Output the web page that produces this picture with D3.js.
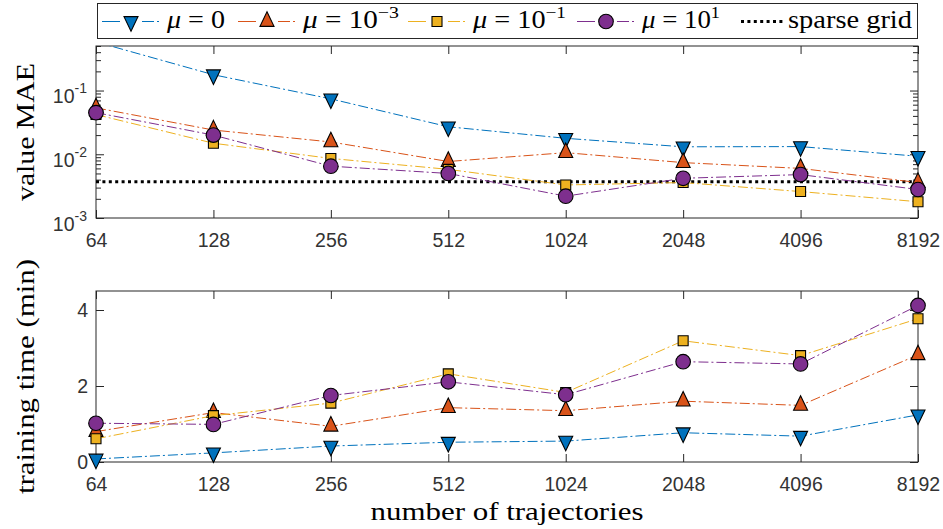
<!DOCTYPE html>
<html>
<head>
<meta charset="utf-8">
<script src="https://cdn.jsdelivr.net/npm/d3@7"></script>
<style>
body { margin: 0; background: #fff; }
svg { display: block; }
</style>
</head>
<body>
<div id="chart"></div>
<script>
// values
var trajectories = [64, 128, 256, 512, 1024, 2048, 4096, 8192];

var maeMu0    = [0.58, 0.177, 0.074, 0.027, 0.0178, 0.0131, 0.0132, 0.0093];
var maeMu1e3  = [0.0535, 0.024, 0.0156, 0.0077, 0.0106, 0.0074, 0.0060, 0.0036];
var maeMu1e1  = [0.042, 0.0149, 0.0086, 0.0058, 0.0033, 0.0036, 0.0026, 0.0018];
var maeMu10   = [0.045, 0.020, 0.0065, 0.0050, 0.0022, 0.0042, 0.0048, 0.0028];
var sparseGridMae = 0.0037;

var timeMu0   = [0.08, 0.24, 0.42, 0.52, 0.55, 0.77, 0.68, 1.24];
var timeMu1e3 = [0.80, 1.30, 0.94, 1.43, 1.35, 1.60, 1.49, 2.82];
var timeMu1e1 = [0.61, 1.22, 1.55, 2.32, 1.83, 3.19, 2.80, 3.77];
var timeMu10  = [1.02, 0.99, 1.75, 2.11, 1.77, 2.64, 2.58, 4.12];

var muExponents = [null, "\u22123", "\u22121", "1"];
var maeTicks = [1e-3, 1e-2, 1e-1];
var maeTickExps = ["-3", "-2", "-1"];
var timeTicks = [0, 2, 4];

// styling
var colors = ["#0072BD", "#D95319", "#EDB120", "#7E2F8E"];
var markers = ["down", "up", "square", "circle"];
var axisColor = "#262626";
var tickTextColor = "#333333";
var sansFont = "Liberation Sans";
var serifFont = "Liberation Serif";
var dashDot = "10,3,2,3";

var width = 943;
var height = 529;
var plotLeft = 96, plotRight = 918;
var topPanel = { top: 46, bottom: 218 };
var botPanel = { top: 291, bottom: 462 };

var svg = d3.select("#chart").append("svg")
    .attr("width", width)
    .attr("height", height);

var x = d3.scaleLog().base(2).domain([64, 8192]).range([plotLeft, plotRight]);
var yMae = d3.scaleLog().domain([1e-3, 0.5]).range([topPanel.bottom, topPanel.top]);
var yTime = d3.scaleLinear().domain([0, 4.5]).range([botPanel.bottom, botPanel.top]);

// marker shapes, centred on the centroid like matlab does
function markerPath(type) {
    if (type == "circle") return d3.symbol().type(d3.symbolCircle).size(Math.PI * 7.3 * 7.3)();
    if (type == "square") return "M-5,-5H5V5H-5Z";
    var w = 7, h = 14.5;
    if (type == "up") return "M0," + (-2 * h / 3) + "L" + w + "," + (h / 3) + "L" + (-w) + "," + (h / 3) + "Z";
    return "M0," + (2 * h / 3) + "L" + w + "," + (-h / 3) + "L" + (-w) + "," + (-h / 3) + "Z";
}

function drawFrame(panel, yScale, isLog) {
    var g = svg.append("g").attr("class", "frame");

    var bottomAxis = d3.axisBottom(x).tickValues(trajectories).tickSize(-8).tickSizeOuter(0)
        .tickPadding(15).tickFormat(d3.format("d"));
    var topAxis = d3.axisTop(x).tickValues(trajectories).tickSize(-8).tickSizeOuter(0).tickFormat("");

    g.append("g").attr("transform", "translate(0," + panel.bottom + ")").call(bottomAxis);
    g.append("g").attr("transform", "translate(0," + panel.top + ")").call(topAxis);

    var yTicks = isLog ? maeTicks : timeTicks;
    var leftAxis = d3.axisLeft(yScale).tickValues(yTicks).tickSize(-8).tickSizeOuter(0).tickFormat("");
    var rightAxis = d3.axisRight(yScale).tickValues(yTicks).tickSize(-8).tickSizeOuter(0).tickFormat("");
    g.append("g").attr("transform", "translate(" + plotLeft + ",0)").call(leftAxis);
    g.append("g").attr("transform", "translate(" + plotRight + ",0)").call(rightAxis);

    if (isLog) {
        var minor = [];
        [1e-3, 1e-2, 1e-1].forEach(function (d) {
            for (var k = 2; k <= 9; k++) {
                if (d * k <= yScale.domain()[1] + 1e-9) minor.push(d * k);
            }
        });
        g.append("g").attr("transform", "translate(" + plotLeft + ",0)")
            .call(d3.axisLeft(yScale).tickValues(minor).tickSize(-5).tickSizeOuter(0).tickFormat(""));
        g.append("g").attr("transform", "translate(" + plotRight + ",0)")
            .call(d3.axisRight(yScale).tickValues(minor).tickSize(-5).tickSizeOuter(0).tickFormat(""));

        // 10^k labels
        var lab = g.selectAll(".ylab").data(maeTicks).enter().append("text")
            .attr("class", "ylab")
            .attr("x", plotLeft - 9)
            .attr("y", function (d) { return yScale(d) + 12.5; })
            .attr("text-anchor", "end")
            .attr("fill", tickTextColor)
            .style("font-family", sansFont)
            .style("font-size", "19.5px");
        lab.append("tspan").text("10");
        lab.append("tspan").attr("dy", -10).style("font-size", "14px")
            .text(function (d, i) { return maeTickExps[i]; });
    } else {
        g.selectAll(".ylab").data(timeTicks).enter().append("text")
            .attr("class", "ylab")
            .attr("x", plotLeft - 8)
            .attr("y", function (d) { return yScale(d); })
            .attr("dy", "0.36em")
            .attr("text-anchor", "end")
            .attr("fill", tickTextColor)
            .style("font-family", sansFont)
            .style("font-size", "19.5px")
            .text(function (d) { return d; });
    }

    g.selectAll(".domain").remove();
    g.selectAll(".tick line").attr("stroke", axisColor).attr("stroke-width", 1);
    g.selectAll(".tick text")
        .attr("fill", tickTextColor)
        .style("font-family", sansFont)
        .style("font-size", "19.5px");

    g.append("rect")
        .attr("x", plotLeft).attr("y", panel.top)
        .attr("width", plotRight - plotLeft).attr("height", panel.bottom - panel.top)
        .attr("fill", "none")
        .attr("stroke", axisColor)
        .attr("stroke-width", 1);
}

function drawSeries(panel, yScale, seriesList, clipId) {
    svg.append("clipPath").attr("id", clipId).append("rect")
        .attr("x", plotLeft).attr("y", panel.top)
        .attr("width", plotRight - plotLeft).attr("height", panel.bottom - panel.top);

    var g = svg.append("g");
    var line = d3.line()
        .x(function (d) { return x(d[0]); })
        .y(function (d) { return yScale(d[1]); });

    seriesList.forEach(function (vals, i) {
        var pts = trajectories.map(function (t, j) { return [t, vals[j]]; });
        g.append("path")
            .datum(pts)
            .attr("clip-path", "url(#" + clipId + ")")
            .attr("fill", "none")
            .attr("stroke", colors[i])
            .attr("stroke-width", 1)
            .attr("stroke-dasharray", dashDot)
            .attr("d", line);
        var lo = yScale.domain()[0], hi = yScale.domain()[1];
        g.selectAll(".m" + i)
            .data(pts.filter(function (d) { return d[1] >= lo && d[1] <= hi; }))
            .enter().append("path")
            .attr("class", "m" + i)
            .attr("transform", function (d) { return "translate(" + x(d[0]) + "," + yScale(d[1]) + ")"; })
            .attr("d", markerPath(markers[i]))
            .attr("fill", colors[i])
            .attr("stroke", "#000")
            .attr("stroke-width", 1.1);
    });
}

// top panel: value MAE
drawFrame(topPanel, yMae, true);
svg.append("line")
    .attr("x1", plotLeft).attr("x2", plotRight)
    .attr("y1", yMae(sparseGridMae)).attr("y2", yMae(sparseGridMae))
    .attr("stroke", "#000")
    .attr("stroke-width", 3)
    .attr("stroke-dasharray", "3,3.4");
drawSeries(topPanel, yMae, [maeMu0, maeMu1e3, maeMu1e1, maeMu10], "clipTop");

// bottom panel: training time
drawFrame(botPanel, yTime, false);
drawSeries(botPanel, yTime, [timeMu0, timeMu1e3, timeMu1e1, timeMu10], "clipBot");

// axis titles
svg.append("text")
    .attr("transform", "translate(34," + ((topPanel.top + topPanel.bottom) / 2) + ") rotate(-90)")
    .attr("text-anchor", "middle")
    .attr("textLength", 138).attr("lengthAdjust", "spacingAndGlyphs")
    .style("font-family", serifFont).style("font-size", "26px")
    .attr("fill", "#000")
    .text("value MAE");

svg.append("text")
    .attr("transform", "translate(34," + ((botPanel.top + botPanel.bottom) / 2) + ") rotate(-90)")
    .attr("text-anchor", "middle")
    .attr("textLength", 235).attr("lengthAdjust", "spacingAndGlyphs")
    .style("font-family", serifFont).style("font-size", "26px")
    .attr("fill", "#000")
    .text("training time (min)");

svg.append("text")
    .attr("x", (plotLeft + plotRight) / 2).attr("y", 520)
    .attr("text-anchor", "middle")
    .attr("textLength", 273).attr("lengthAdjust", "spacingAndGlyphs")
    .style("font-family", serifFont).style("font-size", "26px")
    .attr("fill", "#000")
    .text("number of trajectories");

// legend
var legend = svg.append("g");
legend.append("rect")
    .attr("x", 97.5).attr("y", 3.5).attr("width", 820).attr("height", 35)
    .attr("fill", "#fff").attr("stroke", axisColor).attr("stroke-width", 1);

var legendX = [102, 238, 408, 577];
var legendTextLen = [58, 96, 93, 78];
var legY = 21.5;
muExponents.forEach(function (exp, i) {
    var x0 = legendX[i];
    legend.append("line")
        .attr("x1", x0).attr("x2", x0 + 58)
        .attr("y1", legY).attr("y2", legY)
        .attr("stroke", colors[i]).attr("stroke-width", 1)
        .attr("stroke-dasharray", "18,22,12,3,2,3");
    legend.append("path")
        .attr("transform", "translate(" + (x0 + 29) + "," + legY + ")")
        .attr("d", markerPath(markers[i]))
        .attr("fill", colors[i]).attr("stroke", "#000").attr("stroke-width", 1.1);
    var t = legend.append("text")
        .attr("x", x0 + 65).attr("y", 28)
        .attr("textLength", legendTextLen[i]).attr("lengthAdjust", "spacingAndGlyphs")
        .style("font-family", serifFont).style("font-size", "25px")
        .attr("fill", "#000");
    t.append("tspan").style("font-style", "italic").text("\u03bc");
    if (exp == null) {
        t.append("tspan").text(" = 0");
    } else {
        t.append("tspan").text(" = 10");
        t.append("tspan").attr("dy", -10).style("font-size", "17px").text(exp);
    }
});
legend.append("line")
    .attr("x1", 741).attr("x2", 783)
    .attr("y1", legY).attr("y2", legY)
    .attr("stroke", "#000").attr("stroke-width", 3)
    .attr("stroke-dasharray", "3,3.4");
legend.append("text")
    .attr("x", 788).attr("y", 28)
    .attr("textLength", 124).attr("lengthAdjust", "spacingAndGlyphs")
    .style("font-family", serifFont).style("font-size", "25px")
    .attr("fill", "#000")
    .text("sparse grid");
</script>
</body>
</html>
